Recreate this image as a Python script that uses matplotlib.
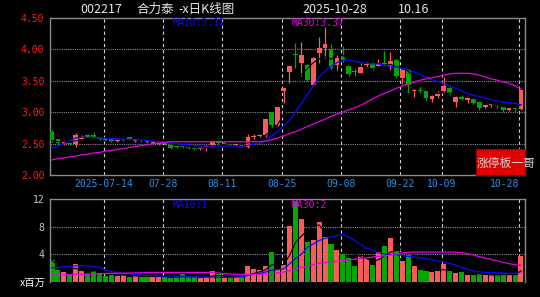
import matplotlib
matplotlib.use("Agg")
import matplotlib.pyplot as plt
from matplotlib.patches import Rectangle
import numpy as np

# 002217 合力泰 daily candles, 2025-07-01 .. 2025-10-28
dates = ["2025-07-01", "2025-07-02", "2025-07-03", "2025-07-04", "2025-07-07", "2025-07-08",
         "2025-07-09", "2025-07-10", "2025-07-11", "2025-07-14", "2025-07-15", "2025-07-16",
         "2025-07-17", "2025-07-18", "2025-07-21", "2025-07-22", "2025-07-23", "2025-07-24",
         "2025-07-25", "2025-07-28", "2025-07-29", "2025-07-30", "2025-07-31",
         "2025-08-01", "2025-08-04", "2025-08-05", "2025-08-06", "2025-08-07", "2025-08-08",
         "2025-08-11", "2025-08-12", "2025-08-13", "2025-08-14", "2025-08-15", "2025-08-18",
         "2025-08-19", "2025-08-20", "2025-08-21", "2025-08-22", "2025-08-25", "2025-08-26",
         "2025-08-27", "2025-08-28", "2025-08-29",
         "2025-09-01", "2025-09-02", "2025-09-03", "2025-09-04", "2025-09-05", "2025-09-08",
         "2025-09-09", "2025-09-10", "2025-09-11", "2025-09-12", "2025-09-15", "2025-09-16",
         "2025-09-17", "2025-09-18", "2025-09-19", "2025-09-22", "2025-09-23", "2025-09-24",
         "2025-09-25", "2025-09-26", "2025-09-29", "2025-09-30",
         "2025-10-09", "2025-10-10", "2025-10-13", "2025-10-14", "2025-10-15", "2025-10-16",
         "2025-10-17", "2025-10-20", "2025-10-21", "2025-10-22", "2025-10-23", "2025-10-24",
         "2025-10-27", "2025-10-28"]

opens = [2.68, 2.57, 2.49, 2.51, 2.50, 2.58, 2.64, 2.63, 2.59, 2.57,
         2.57, 2.54, 2.55, 2.60, 2.54, 2.56, 2.54, 2.51, 2.49, 2.51,
         2.48, 2.46, 2.46, 2.45, 2.44, 2.42, 2.45, 2.47, 2.54, 2.50,
         2.51, 2.47, 2.48, 2.45, 2.60, 2.62, 2.64, 3.00, 2.80, 3.33,
         3.64, 3.93, 3.79, 3.75, 3.43, 3.95, 4.02, 4.00, 3.75, 3.90,
         3.73, 3.66, 3.63, 3.75, 3.78, 3.74, 3.78, 3.72, 3.83, 3.55,
         3.67, 3.34, 3.35, 3.33, 3.21, 3.26, 3.33, 3.39, 3.17, 3.25,
         3.19, 3.21, 3.17, 3.09, 3.11, 3.11, 3.08, 3.04, 3.06, 3.05]
highs = [2.72, 2.58, 2.56, 2.52, 2.67, 2.63, 2.66, 2.69, 2.61, 2.58,
         2.58, 2.57, 2.59, 2.61, 2.57, 2.57, 2.55, 2.54, 2.52, 2.52,
         2.49, 2.48, 2.47, 2.46, 2.45, 2.46, 2.48, 2.54, 2.56, 2.52,
         2.52, 2.50, 2.49, 2.66, 2.65, 2.66, 2.89, 3.01, 3.08, 3.39,
         3.73, 4.10, 4.11, 3.76, 3.88, 4.19, 4.35, 4.08, 3.93, 4.06,
         3.74, 3.70, 3.78, 3.80, 3.80, 3.84, 3.98, 3.96, 3.84, 3.68,
         3.68, 3.37, 3.40, 3.34, 3.28, 3.34, 3.56, 3.40, 3.26, 3.28,
         3.23, 3.22, 3.18, 3.12, 3.15, 3.13, 3.09, 3.07, 3.08, 3.36]
lows = [2.53, 2.49, 2.48, 2.48, 2.45, 2.56, 2.59, 2.60, 2.55, 2.54,
        2.53, 2.53, 2.54, 2.56, 2.53, 2.53, 2.51, 2.50, 2.48, 2.48,
        2.42, 2.43, 2.43, 2.42, 2.40, 2.40, 2.39, 2.46, 2.50, 2.49,
        2.48, 2.46, 2.44, 2.43, 2.57, 2.60, 2.60, 2.77, 2.78, 3.15,
        3.47, 3.70, 3.57, 3.50, 3.42, 3.79, 3.86, 3.67, 3.67, 3.80,
        3.58, 3.57, 3.62, 3.70, 3.67, 3.72, 3.74, 3.67, 3.55, 3.45,
        3.30, 3.24, 3.30, 3.20, 3.17, 3.23, 3.30, 3.28, 3.09, 3.19,
        3.15, 3.13, 3.04, 3.07, 3.08, 3.07, 3.01, 3.02, 3.01, 3.03]
closes = [2.55, 2.51, 2.54, 2.50, 2.63, 2.61, 2.61, 2.61, 2.57, 2.56,
          2.54, 2.56, 2.58, 2.57, 2.56, 2.55, 2.52, 2.53, 2.51, 2.50,
          2.43, 2.45, 2.44, 2.43, 2.41, 2.44, 2.46, 2.53, 2.51, 2.51,
          2.49, 2.49, 2.46, 2.60, 2.62, 2.63, 2.89, 2.80, 3.08, 3.39,
          3.73, 3.91, 3.91, 3.52, 3.87, 4.03, 4.09, 3.70, 3.87, 3.83,
          3.61, 3.64, 3.72, 3.77, 3.69, 3.77, 3.76, 3.82, 3.57, 3.67,
          3.43, 3.36, 3.33, 3.22, 3.26, 3.31, 3.41, 3.31, 3.25, 3.21,
          3.22, 3.15, 3.06, 3.11, 3.13, 3.10, 3.04, 3.06, 3.05, 3.36]

# volume in millions of shares
volumes = [3.14, 1.71, 1.40, 1.05, 2.55, 1.60, 1.20, 1.57, 1.24, 0.88,
           1.05, 0.88, 0.95, 0.76, 0.80, 0.78, 0.90, 0.76, 0.76, 0.67,
           0.65, 0.67, 1.14, 0.67, 0.67, 0.57, 0.76, 1.57, 1.15, 0.57,
           0.57, 0.74, 0.70, 2.29, 1.95, 1.68, 2.29, 4.40, 1.81, 2.43,
           8.14, 11.70, 9.05, 5.76, 6.10, 8.62, 6.57, 5.52, 4.57, 4.10,
           3.52, 2.29, 3.71, 3.29, 2.43, 4.33, 5.14, 6.38, 4.43, 3.00,
           3.86, 2.29, 1.71, 1.57, 1.43, 1.57, 2.57, 1.57, 1.33, 1.43,
           1.00, 1.00, 1.14, 1.00, 1.00, 1.00, 1.33, 1.00, 1.00, 3.71]

ma10 = [2.43, 2.46, 2.50, 2.55, 2.59, 2.60, 2.60, 2.60, 2.59, 2.59,
        2.58, 2.58, 2.57, 2.57, 2.57, 2.56, 2.55, 2.54, 2.53, 2.52,
        2.51, 2.50, 2.49, 2.48, 2.47, 2.46, 2.46, 2.46, 2.46, 2.46,
        2.46, 2.46, 2.46, 2.47, 2.49, 2.51, 2.56, 2.62, 2.69, 2.78,
        2.87, 3.00, 3.14, 3.28, 3.42, 3.56, 3.66, 3.73, 3.79, 3.83,
        3.83, 3.81, 3.79, 3.78, 3.77, 3.77, 3.75, 3.73, 3.72, 3.70,
        3.68, 3.64, 3.60, 3.56, 3.52, 3.49, 3.46, 3.42, 3.38, 3.34,
        3.30, 3.27, 3.25, 3.22, 3.20, 3.18, 3.16, 3.15, 3.14, 3.12]
ma30 = [2.24, 2.26, 2.27, 2.29, 2.30, 2.32, 2.33, 2.35, 2.36, 2.38,
        2.39, 2.41, 2.42, 2.44, 2.45, 2.47, 2.48, 2.50, 2.51, 2.52,
        2.53, 2.53, 2.53, 2.53, 2.53, 2.53, 2.53, 2.53, 2.53, 2.53,
        2.53, 2.53, 2.53, 2.53, 2.53, 2.53, 2.54, 2.56, 2.59, 2.62,
        2.66, 2.69, 2.73, 2.77, 2.81, 2.85, 2.89, 2.93, 2.97, 3.00,
        3.04, 3.07, 3.11, 3.16, 3.21, 3.26, 3.30, 3.34, 3.38, 3.42,
        3.45, 3.48, 3.51, 3.53, 3.55, 3.57, 3.59, 3.61, 3.62, 3.62,
        3.62, 3.61, 3.59, 3.56, 3.53, 3.51, 3.48, 3.46, 3.42, 3.37]
vol_ma10 = [2.05, 2.12, 2.20, 2.25, 2.33, 2.35, 2.33, 2.28, 2.15, 1.75,
            1.50, 1.35, 1.25, 1.20, 1.10, 1.00, 0.95, 0.90, 0.86, 0.86,
            0.86, 0.84, 0.84, 0.80, 0.76, 0.76, 0.72, 0.70, 0.68, 0.67,
            0.67, 0.70, 0.80, 0.95, 1.10, 1.25, 1.45, 1.71, 1.80, 1.90,
            2.60, 3.40, 4.00, 5.00, 5.50, 6.00, 6.30, 6.50, 6.70, 6.85,
            6.50, 6.00, 5.40, 4.90, 4.60, 4.20, 4.05, 4.00, 3.95, 3.85,
            3.70, 3.60, 3.50, 3.40, 3.20, 3.00, 2.90, 2.70, 2.45, 2.10,
            1.85, 1.60, 1.45, 1.40, 1.35, 1.33, 1.30, 1.26, 1.24, 1.50]
vol_ma30 = [1.00, 1.02, 1.05, 1.07, 1.10, 1.12, 1.15, 1.17, 1.20, 1.22,
            1.24, 1.26, 1.28, 1.30, 1.32, 1.34, 1.36, 1.38, 1.38, 1.38,
            1.38, 1.38, 1.38, 1.38, 1.38, 1.38, 1.38, 1.38, 1.30, 1.20,
            1.14, 1.12, 1.10, 1.10, 1.10, 1.12, 1.14, 1.18, 1.30, 1.45,
            1.60, 1.90, 2.10, 2.30, 2.50, 2.70, 2.80, 2.90, 3.00, 3.10,
            3.20, 3.30, 3.40, 3.50, 3.60, 3.70, 3.80, 3.90, 4.05, 4.20,
            4.30, 4.33, 4.33, 4.33, 4.33, 4.33, 4.33, 4.33, 4.30, 4.25,
            4.10, 3.90, 3.65, 3.45, 3.25, 3.05, 2.85, 2.65, 2.50, 2.43]

tick_dates = ["2025-07-14", "2025-07-28", "2025-08-11", "2025-08-25",
              "2025-09-08", "2025-09-22", "2025-10-09", "2025-10-28"]
price_ticks = [2.0, 2.5, 3.0, 3.5, 4.0, 4.5]
vol_ticks = [4, 8, 12]

code = "002217"
name = "合力泰"

UP = "#ff5a5a"
DOWN = "#00a800"
BLUE = "#0a0aff"
MAGENTA = "#e600e6"
GRID = "#8a8a8a"
MONO = "DejaVu Sans Mono"

plt.rcParams['font.family'] = ['Noto Sans CJK SC', 'DejaVu Sans']

W, H = 540, 297
fig = plt.figure(figsize=(W / 100, H / 100), dpi=100, facecolor="black")


def box(x0, y0, x1, y1):
    return [x0 / W, 1 - y1 / H, (x1 - x0) / W, (y1 - y0) / H]


def ma(vals, n):
    out = []
    for i in range(len(vals)):
        w = vals[max(0, i - n + 1):i + 1]
        out.append(sum(w) / len(w))
    return out


ax = fig.add_axes(box(50, 18, 525, 175))
vax = fig.add_axes(box(50, 199, 525, 282))

xs = np.arange(len(dates))
o = np.array(opens)
c = np.array(closes)
cols = np.where(c >= o, UP, DOWN)
dash_x = [dates.index(d) - 0.3 for d in tick_dates]

for a in (ax, vax):
    a.set_facecolor("black")
    a.set_xlim(-0.34, 79.68)
    a.set_xticks([])
    for s in a.spines.values():
        s.set_color(GRID)
        s.set_linewidth(1)
    a.tick_params(axis="y", length=0, pad=4)
    for p in dash_x:
        a.axvline(p, color="#d0d0d0", lw=0.8, ls=(0, (3, 2.5)), zorder=1)
vax.spines["bottom"].set_visible(False)

# price panel
ax.set_ylim(2.0, 4.5)
ax.set_yticks(price_ticks)
ax.set_yticklabels(["%.2f" % t for t in price_ticks], color="#ff1a1a",
                   fontsize=7, family=MONO)
for t in price_ticks[1:-1]:
    ax.axhline(t, color=GRID, lw=0.8, ls=(0, (1, 1)), zorder=1)

ax.vlines(xs, lows, highs, colors=cols, lw=0.9, zorder=2)
body = np.maximum(np.abs(c - o), 0.012)
ax.bar(xs, body, bottom=np.minimum(o, c), width=0.8, color=cols, lw=0, zorder=3)
ax.plot(xs, ma(closes, 5), color="black", lw=0.8, zorder=4)
ax.plot(xs, ma10, color=BLUE, lw=0.9, zorder=4)
ax.plot(xs, ma30, color=MAGENTA, lw=0.9, zorder=4)

ax.text(0.259, 0.965, "MA10:%.2f" % ma10[-1], transform=ax.transAxes,
        color=BLUE, fontsize=7, family=MONO, va="center")
ax.text(0.5095, 0.965, "MA30:%.2f" % ma30[-1], transform=ax.transAxes,
        color=MAGENTA, fontsize=7, family=MONO, va="center")

for d, p in zip(tick_dates, dash_x):
    label = d if d == tick_dates[0] else d[5:]
    ha = "right" if d == tick_dates[-1] else "center"
    ax.text(p, -0.06, label, transform=ax.get_xaxis_transform(), ha=ha,
            va="center", color="#2e8fe6", fontsize=7, family=MONO)

ax.add_patch(Rectangle((0.897, 0.0), 0.103, 0.166, transform=ax.transAxes,
                       facecolor="#e00000", edgecolor="#a00000", lw=0.8,
                       zorder=6, clip_on=False))
fig.text(477 / W, 1 - 163 / H, "涨停板一哥", color="#d8d8d8", fontsize=8.5,
         va="center", ha="left", zorder=10)

# volume panel
vax.set_ylim(0, 12)
vax.set_yticks(vol_ticks)
vax.set_yticklabels([str(t) for t in vol_ticks], color="#c8c8c8",
                    fontsize=7, family=MONO)
for t in vol_ticks[:-1]:
    vax.axhline(t, color=GRID, lw=0.8, ls=(0, (1, 1)), zorder=1)
vax.bar(xs, volumes, width=0.85, color=cols, lw=0, zorder=2)
vax.plot(xs, ma(volumes, 5), color="black", lw=0.8, zorder=3)
vax.plot(xs, vol_ma10, color=BLUE, lw=0.9, zorder=3)
vax.plot(xs, vol_ma30, color=MAGENTA, lw=0.9, zorder=3)
vax.text(0.259, 0.928, "MA10:%d" % int(vol_ma10[-1]), transform=vax.transAxes,
         color=BLUE, fontsize=7, family=MONO, va="center")
vax.text(0.5095, 0.93, "MA30:%d" % int(vol_ma30[-1]), transform=vax.transAxes,
         color=MAGENTA, fontsize=7, family=MONO, va="center")
fig.text(46 / W, 1 - 283 / H, "x百万", color="#f0f0f0", fontsize=7.5,
         ha="right", va="center")

# header
pct = (closes[-1] / closes[-2] - 1) * 100
title_col = "#e6e6e6"
fig.text(80 / W, 1 - 9.5 / H, code, color=title_col, fontsize=9, va="center")
fig.text(137 / W, 1 - 9.5 / H, name, color=title_col, fontsize=9, va="center")
fig.text(178 / W, 1 - 9.5 / H, "-x日K线图", color=title_col, fontsize=9, va="center")
fig.text(302 / W, 1 - 9.5 / H, dates[-1], color=title_col, fontsize=9, va="center")
fig.text(398 / W, 1 - 9.5 / H, "%.2f" % pct, color=title_col, fontsize=9, va="center")

fig.savefig("out.png", dpi=100, facecolor="black")
